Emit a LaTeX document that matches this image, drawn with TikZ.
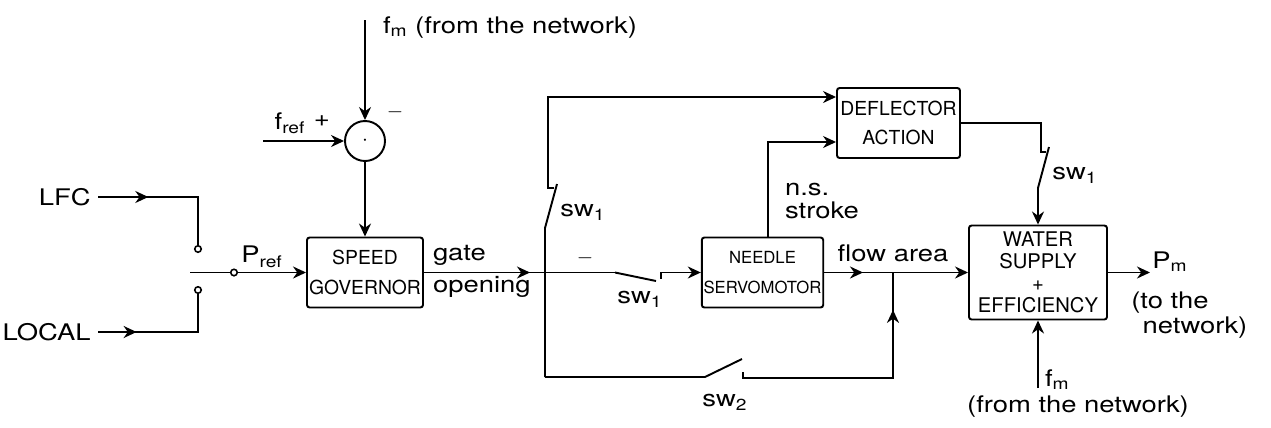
\documentclass[tikz,border=0pt]{standalone}
\usepackage{fontspec}
\setsansfont{TeX Gyre Heros}
\newfontfamily\handfont{TeX Gyre Heros}[FakeStretch=1.2]
\usetikzlibrary{arrows.meta,positioning,decorations.markings}

\begin{document}
\begin{tikzpicture}[
  font=\handfont\fontsize{13}{15}\selectfont,
  ln/.style={line width=1.1pt},
  blk/.style={draw, line width=1.1pt, rounded corners=1.5pt, align=center,
              inner sep=1pt, font=\sffamily\fontsize{11}{17}\selectfont},
  ar/.style={-{Stealth[length=2.6mm,width=2.4mm]}, line width=1.1pt},
  midar/.style={ln, postaction={decorate},
                decoration={markings, mark=at position #1 with
                  {\arrow{Stealth[length=2.6mm,width=2.4mm]}}}},
  ctc/.style={circle, draw, line width=0.9pt, inner sep=0pt,
              minimum size=1.3mm, fill=white},
  lbl/.style={inner sep=1pt}]

\useasboundingbox (0,0) rectangle (25.42,-8.54);

% ---- blocks -----------------------------------------------------------
\node[blk, minimum width=2.32cm, minimum height=1.4cm] (gov) at (7.3,-5.45) {SPEED\\GOVERNOR};
\node[blk, minimum width=2.42cm, minimum height=1.4cm,
      font=\sffamily\fontsize{9.5}{17}\selectfont] (ndl) at (15.25,-5.45) {NEEDLE\\SERVOMOTOR};
\node[blk, minimum width=2.46cm, minimum height=1.4cm] (dfl) at (17.97,-2.46) {DEFLECTOR\\ACTION};
\node[blk, minimum width=2.76cm, minimum height=1.88cm,
      font=\sffamily\fontsize{11.5}{12.5}\selectfont] (wat) at (20.76,-5.45)
     {WATER\\SUPPLY\\+\\EFFICIENCY};
\node[circle, draw, ln, minimum size=0.8cm, inner sep=0pt] (sum) at (7.3,-2.82) {$\cdot$};

% ---- reference selector -----------------------------------------------
\node[lbl, anchor=east, inner sep=4pt] (lfc) at (1.96,-3.94) {LFC};
\node[lbl, anchor=east, inner sep=4pt] (loc) at (1.96,-6.64) {LOCAL};
\node[ctc] (ca) at (3.96,-4.98) {};
\node[ctc] (cb) at (3.96,-5.80) {};
\node[ctc] (piv) at (4.68,-5.45) {};
\coordinate (arm) at (3.80,-5.45);
\draw[midar=0.34] (lfc.east) -| (ca.north);
\draw[midar=0.28] (loc.east) -| (cb.south);
\draw[ln] (piv.west) -- (arm);
\draw[ar] (piv.east) -- (gov.west);
\node[lbl] (preflbl) at (5.24,-5.14) {P\textsubscript{ref}};

% ---- frequency error --------------------------------------------------
\coordinate (fmtop) at (7.3,-0.4);
\coordinate (fref) at (5.26,-2.82);
\draw[ar] (fmtop) -- (sum.north);
\draw[ar] (fref) -- (sum.west);
\draw[ar] (sum.south) -- (gov.north);
\node[lbl, anchor=west] (fmlbl) at (7.62,-0.55) {f\textsubscript{m} (from the network)};
\node[lbl] (freflbl) at (5.8,-2.46) {f\textsubscript{ref}};
\node[lbl] (plus) at (6.44,-2.42) {+};
\node[lbl] (minus) at (7.9,-2.24) {$-$};

% ---- gate opening and switches sw1, sw2 -------------------------------
\coordinate (swp) at (12.3,-5.45);
\coordinate (s1harm) at (13.12,-5.62);
\coordinate (s1c) at (13.22,-5.45);
\draw[midar=0.555] (gov.east) -- (swp);
\draw[ln] (swp) -- (s1harm);
\draw[ar] ([yshift=-0.12cm]s1c) -- (s1c) -- (ndl.west);
\node[lbl, anchor=west] (gatelbl) at (8.62,-5.1) {gate};
\node[lbl, anchor=west] (openlbl) at (8.62,-5.74) {opening};
\node[lbl] (minus2) at (11.7,-5.16) {$-$};
\node[lbl] (sw1b) at (12.8,-5.98) {sw\textsubscript{1}};

\coordinate (bl) at (10.9,-7.54);
\coordinate (s1lo) at (10.9,-4.56);
\coordinate (s1arm) at (11.14,-3.68);
\coordinate (s1up) at (10.96,-3.76);
\draw[ln] (bl) -- (s1lo) -- (s1arm);
\draw[ar] ([xshift=0.12cm]s1up) -- (s1up) |- ([yshift=0.52cm]dfl.west);
\node[lbl] (sw1a) at (11.66,-4.24) {sw\textsubscript{1}};

\coordinate (s2p) at (14.1,-7.54);
\coordinate (s2arm) at (14.84,-7.18);
\coordinate (s2c) at (14.86,-7.56);
\coordinate (j2) at (17.86,-5.45);
\draw[ln] (bl) -- (s2p) -- (s2arm);
\draw[midar=0.857] ([yshift=0.12cm]s2c) -- (s2c) -| (j2);
\node[lbl] (sw2) at (14.5,-8.04) {sw\textsubscript{2}};

% ---- needle, deflector, water supply ----------------------------------
\draw[ar] ([xshift=0.11cm]ndl.north) |- ([yshift=-0.38cm]dfl.west);
\node[lbl, anchor=west] (nslbl) at (15.66,-3.8) {n.s.};
\node[lbl, anchor=west] (strklbl) at (15.66,-4.2) {stroke};

\draw[ar, midar=0.27] (ndl.east) -- (wat.west);
\node[lbl] (flowlbl) at (17.86,-5.06) {flow area};

\coordinate (dfc) at (20.82,-3.04);
\coordinate (s3arm) at (20.98,-2.94);
\coordinate (s3lo) at (20.76,-3.76);
\draw[ln] (dfl.east) -| (dfc) -- ++(0.1,0);
\draw[ln] (s3arm) -- (s3lo);
\draw[ar] (s3lo) -- (wat.north);
\node[lbl] (sw1c) at (21.5,-3.5) {sw\textsubscript{1}};

\coordinate (pm) at (23.0,-5.45);
\draw[ar] (wat.east) -- (pm);
\node[lbl] (pmlbl) at (23.4,-5.24) {P\textsubscript{m}};
\node[lbl] (tolbl) at (23.4,-6.06) {(to the};
\node[lbl] (netlbl) at (23.9,-6.56) {network)};

\coordinate (fmb) at (20.76,-7.76);
\draw[ar] (fmb) -- (wat.south);
\node[lbl, anchor=west] (fmblbl) at (20.86,-7.6) {f\textsubscript{m}};
\node[lbl] (fromlbl) at (21.56,-8.14) {(from the network)};
\end{tikzpicture}
\end{document}
